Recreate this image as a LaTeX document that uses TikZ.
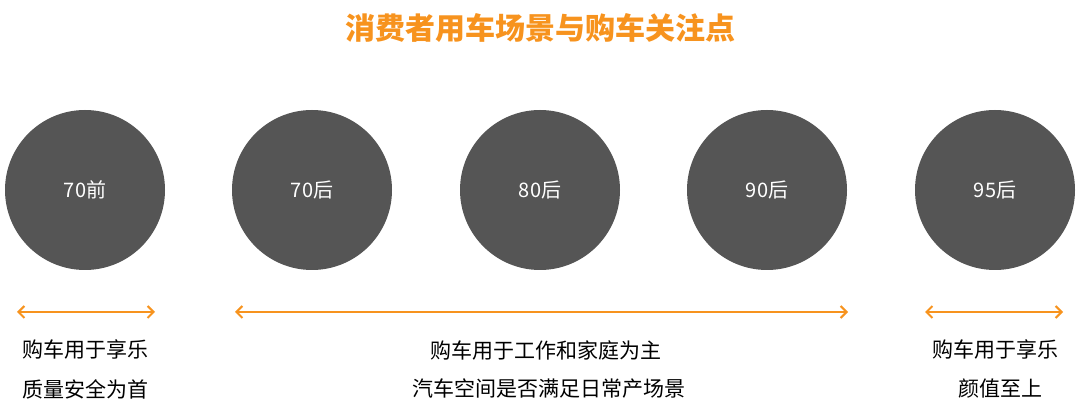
\documentclass[tikz,border=0pt]{standalone}
\usepackage{fontspec}
\setmainfont{Open Sans}
\newfontfamily\cjk{Noto Sans CJK SC}
\usetikzlibrary{arrows.meta}
\definecolor{org}{HTML}{F7931E}
\definecolor{dg}{HTML}{555555}
\begin{document}
\begin{tikzpicture}[x=1pt,y=-1pt,
  circ/.style={circle,fill=dg,minimum size=160pt,inner sep=0pt,text=white,font=\cjk\fontsize{20}{24}\selectfont},
  lab/.style={font=\cjk\fontsize{21}{25}\selectfont,text=black,inner sep=0pt},
  arr/.style={draw=org,line width=2pt,{Straight Barb[length=6pt,width=12pt]}-{Straight Barb[length=6pt,width=12pt]}}]
\useasboundingbox (0,0) rectangle (1080,419);
\node[font=\cjk\bfseries\fontsize{30}{34}\selectfont,text=org] (title) at (540,28) {消费者用车场景与购车关注点};
\node[circ] (c1) at (85,190) {70前};
\node[circ] (c2) at (312,190) {70后};
\node[circ] (c3) at (540,190) {80后};
\node[circ] (c4) at (767,190) {90后};
\node[circ] (c5) at (995,190) {95后};
\coordinate (a1) at (17,312); \coordinate (b1) at (155,312);
\coordinate (a2) at (235,312); \coordinate (b2) at (848,312);
\coordinate (a3) at (925,312); \coordinate (b3) at (1063,312);
\draw[arr] (a1) -- (b1);
\draw[arr] (a2) -- (b2);
\draw[arr] (a3) -- (b3);
\node[lab] (t1) at (86,350) {购车用于享乐};
\node[lab] (t2) at (86,389) {质量安全为首};
\node[lab] (t3) at (546,350) {购车用于工作和家庭为主};
\node[lab] (t4) at (549,389) {汽车空间是否满足日常产场景};
\node[lab] (t5) at (995,350) {购车用于享乐};
\node[lab] (t6) at (1000,389) {颜值至上};
\end{tikzpicture}
\end{document}
